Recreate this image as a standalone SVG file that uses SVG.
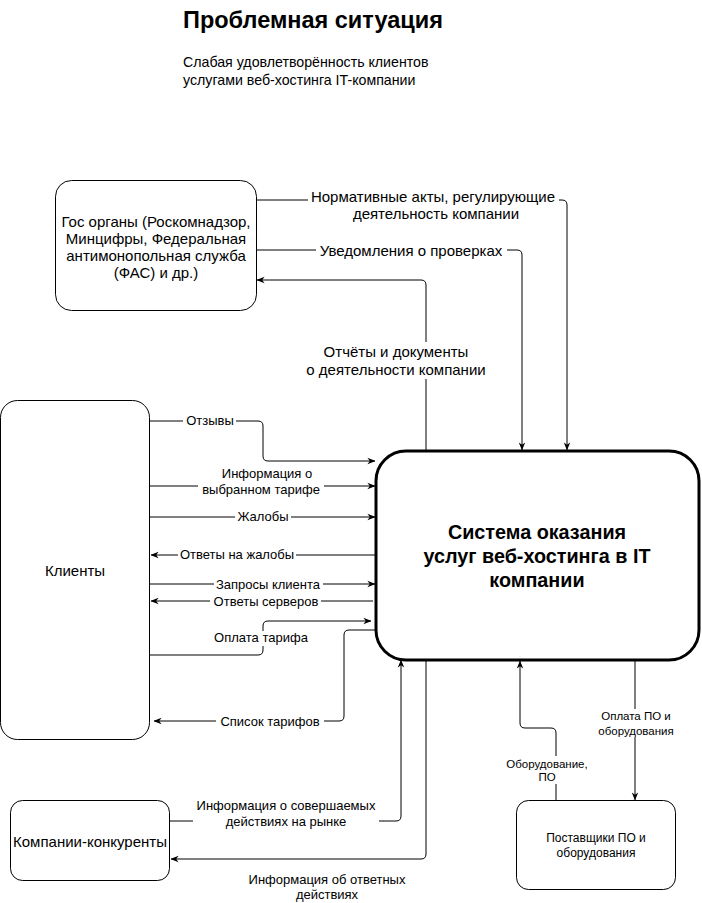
<svg xmlns="http://www.w3.org/2000/svg" width="702" height="903" viewBox="0 0 702 903">
<defs>
<marker id="arr" viewBox="0 0 10 10" refX="9.5" refY="5" markerWidth="8" markerHeight="8" markerUnits="userSpaceOnUse" orient="auto">
<path d="M0,1 L10,5 L0,9 L3,5 Z" fill="#000"/>
</marker>
<style>
text{font-family:"Liberation Sans",Arial,sans-serif;fill:#000}
.node{fill:#fff;stroke:#000;stroke-width:1}
.main{fill:#fff;stroke:#000;stroke-width:3}
.c{fill:none;stroke:#000;stroke-width:1}
.a{marker-end:url(#arr)}
.lb{fill:#fff;stroke:none}
.t15{font-size:15px;text-anchor:middle}
.t13{font-size:13px;text-anchor:middle}
.t11{font-size:11.5px;text-anchor:middle}
.t12{font-size:12px;text-anchor:middle}
</style>
</defs>
<rect width="702" height="903" fill="#fff"/>

<g id="title">
<text x="183" y="28" style="font-size:23.5px;font-weight:bold">Проблемная ситуация</text>
<text x="183" y="67" style="font-size:14.2px">Слабая удовлетворённость клиентов</text>
<text x="183" y="85" style="font-size:14.2px">услугами веб-хостинга IT-компании</text>
</g>

<g id="connectors">
<path class="c a" d="M256,200 H562 Q567,200 567,205 V450"/>
<path class="c a" d="M256,250 H517 Q522,250 522,255 V450"/>
<path class="c a" d="M426,450 V285 Q426,280 421,280 H257"/>
<path class="c a" d="M150,421 H258 Q263,421 263,426 V456 Q263,461 268,461 H375"/>
<path class="c a" d="M150,486 H375"/>
<path class="c a" d="M148,517 H375"/>
<path class="c a" d="M375,555 H151"/>
<path class="c a" d="M150,584 H375"/>
<path class="c a" d="M373,601 H151"/>
<path class="c a" d="M150,655 H258 Q263,655 263,650 V626 Q263,621 268,621 H371"/>
<path class="c a" d="M375,630 H349 Q344,630 344,635 V716 Q344,721 339,721 H154"/>
<path class="c a" d="M170,821 H396 Q401,821 401,816 V660"/>
<path class="c a" d="M426,660 V854 Q426,859 421,859 H171"/>
<path class="c a" d="M556,800 V733 Q556,728 551,728 H525 Q520,728 520,723 V661"/>
<path class="c a" d="M635,660 V800"/>

<rect class="lb" x="308" y="188" width="251" height="34"/>
<text class="t15" x="433" y="202">Нормативные акты, регулирующие</text>
<text class="t15" x="436" y="219">деятельность компании</text>
<rect class="lb" x="316" y="242" width="191" height="17"/>
<text class="t15" x="411" y="256">Уведомления о проверках</text>
<rect class="lb" x="302" y="342" width="188" height="37"/>
<text class="t15" x="396" y="357">Отчёты и документы</text>
<text class="t15" x="396" y="375">о деятельности компании</text>

<rect class="lb" x="183" y="413" width="53" height="15"/>
<text class="t13" x="210" y="425">Отзывы</text>
<rect class="lb" x="198" y="463" width="126" height="32"/>
<text class="t13" x="267" y="478">Информация о</text>
<text class="t13" x="261" y="494">выбранном тарифе</text>
<rect class="lb" x="235" y="510" width="56" height="14"/>
<text class="t13" x="263" y="521">Жалобы</text>
<rect class="lb" x="178" y="548" width="118" height="14"/>
<text class="t13" x="237" y="559">Ответы на жалобы</text>
<rect class="lb" x="214" y="578" width="109" height="13"/>
<text class="t13" x="268" y="589">Запросы клиента</text>
<rect class="lb" x="210" y="595" width="111" height="13"/>
<text class="t13" x="266" y="606">Ответы серверов</text>
<rect class="lb" x="211" y="631" width="101" height="15"/>
<text class="t13" x="261" y="642">Оплата тарифа</text>
<rect class="lb" x="216" y="714" width="108" height="15"/>
<text class="t13" x="270" y="726">Список тарифов</text>

<rect class="lb" x="193" y="797" width="186" height="32"/>
<text class="t13" x="286" y="810">Информация о совершаемых</text>
<text class="t13" x="286" y="826">действиях на рынке</text>
<text class="t13" x="327" y="884">Информация об ответных</text>
<text class="t13" x="327" y="899">действиях</text>

<rect class="lb" x="504" y="756" width="87" height="28"/>
<text class="t11" x="547" y="768">Оборудование,</text>
<text class="t11" x="547" y="781">ПО</text>
<rect class="lb" x="598" y="709" width="76" height="28"/>
<text class="t11" x="636" y="720">Оплата ПО и</text>
<text class="t11" x="636" y="735">оборудования</text>
</g>

<g id="gos">
<rect class="node" x="55.5" y="180.5" width="201" height="130" rx="16"/>
<text class="t15" x="156" y="227">Гос органы (Роскомнадзор,</text>
<text class="t15" x="156" y="244">Минцифры, Федеральная</text>
<text class="t15" x="156" y="261">антимонопольная служба</text>
<text class="t15" x="156" y="278">(ФАС) и др.)</text>
</g>

<g id="clients">
<rect class="node" x="0.5" y="400.5" width="149" height="339" rx="17"/>
<text class="t15" x="75" y="576">Клиенты</text>
</g>

<g id="system">
<rect class="main" x="376" y="451" width="323" height="209" rx="30"/>
<text x="537" y="539" style="font-size:19.8px;font-weight:bold;text-anchor:middle">Система оказания</text>
<text x="537" y="563" style="font-size:19.8px;font-weight:bold;text-anchor:middle">услуг веб-хостинга в IT</text>
<text x="537" y="587" style="font-size:19.8px;font-weight:bold;text-anchor:middle">компании</text>
</g>

<g id="competitors">
<rect class="node" x="10.5" y="800.5" width="159" height="80" rx="12"/>
<text class="t15" x="90" y="847">Компании-конкуренты</text>
</g>

<g id="suppliers">
<rect class="node" x="516.5" y="800.5" width="159" height="89" rx="12"/>
<text class="t12" x="596" y="842">Поставщики ПО и</text>
<text class="t12" x="596" y="857">оборудования</text>
</g>
</svg>
